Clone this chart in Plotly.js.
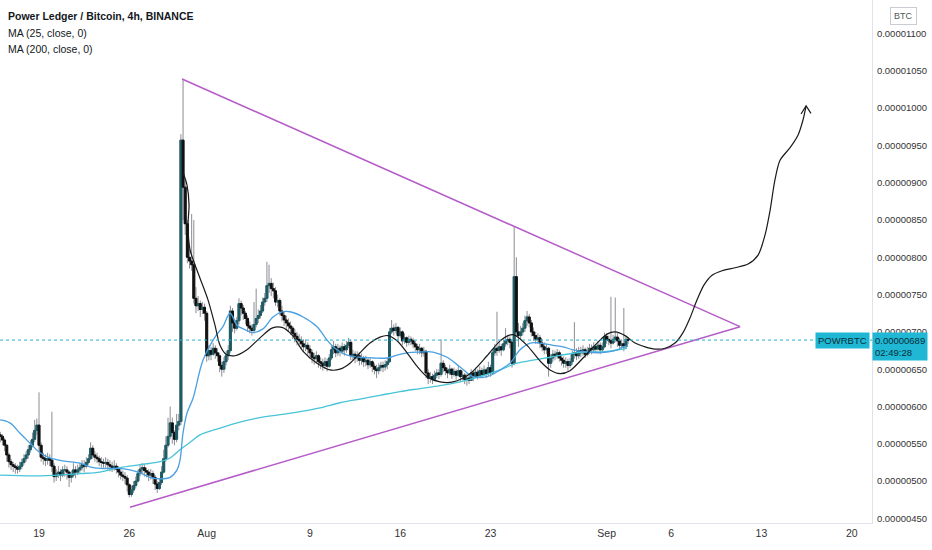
<!DOCTYPE html>
<html><head><meta charset="utf-8">
<script src="https://cdn.plot.ly/plotly-3.0.1.min.js"></script>
<style>html,body{margin:0;padding:0;background:#fff}#chart{width:932px;height:550px}</style>
</head><body><div id="chart"></div>
<script>
// ---- data (prices in units of 1e-8 BTC) ----
const startTime = Date.UTC(2021, 6, 16, 0, 0, 0); // first 4h bar
const firstOpen = 562;
const closes = [
560,555,548,535,526,522, 520,518,516,520,525,530, 535,542,548,556,568,575,
548,532,530,528,530,528, 520,506,510,512,508,515, 515,512,505,508,515,512,
515,518,522,520,525,530, 544,535,532,530,526,525, 524,525,522,520,518,520,
516,512,508,506,504,495, 482,488,494,500,510,516, 518,514,512,508,510,505,
496,490,498,512,530,548, 560,578,565,556,575,580, 957,894,845,800,795,790,
745,735,738,730,733,725, 668,675,670,678,672,668, 655,650,660,668,675,728,
712,705,715,738,732,725, 718,708,705,702,710,718, 722,728,740,745,762,765,
758,755,740,742,728,722, 716,712,708,705,698,694, 690,688,684,680,682,677,
672,666,664,668,660,658, 655,660,654,665,676,680, 672,678,674,680,676,682,
686,668,670,665,668,662, 665,660,662,656,660,654, 650,648,652,655,653,656,
660,700,705,702,706,695, 700,688,692,686,690,688, 684,680,676,678,672,674,
645,638,640,636,642,645, 643,658,652,648,645,650, 643,647,642,648,640,642,
636,638,635,645,640,646, 641,648,643,649,644,652, 645,672,678,675,680,676,
684,688,690,686,658,774, 700,695,700,705,715,720, 712,700,695,690,692,685,
680,676,678,658,665,670, 668,672,665,662,658,660, 655,660,670,672,668,675,
672,676,670,674,678,676, 680,677,682,676,680,694, 690,688,685,690,693,688,
682,684,680,690,689];
const highs = [
566,563,558,550,538,530, 526,524,522,526,530,536, 540,548,555,565,582,584,
619,552,538,536,538,536, 593,524,516,520,516,520, 522,520,514,514,524,520,
522,524,528,528,532,536, 552,548,540,538,534,532, 530,532,530,528,526,528,
524,520,516,514,512,508, 497,494,500,506,515,522, 524,522,518,516,516,514,
508,500,504,520,542,560, 585,600,585,568,590,590, 965,1039,902,850,812,858,
850,760,748,742,740,738, 728,682,680,685,682,678, 672,660,666,674,682,735,
732,718,720,745,742,736, 728,722,714,710,740,758, 730,736,746,752,794,790,
772,766,760,750,745,735, 728,722,718,714,708,704, 700,697,694,690,690,686,
682,676,672,674,670,666, 664,666,664,670,682,688, 684,684,682,686,684,688,
692,690,676,674,674,672, 671,668,668,664,666,662, 658,656,658,660,660,662,
665,705,716,710,712,708, 706,702,698,694,695,694, 692,688,684,684,680,680,
676,650,646,644,648,650, 650,690,662,656,652,656, 652,652,650,654,650,648,
645,644,642,650,648,652, 650,654,652,655,652,660, 656,676,684,727,686,684,
690,705,696,694,690,841, 800,712,708,712,722,728, 724,716,706,700,698,696,
690,686,684,680,670,676, 675,677,675,670,667,666, 664,665,675,713,678,680,
680,682,679,680,684,683, 686,684,688,686,686,699, 698,695,747,696,746,698,
692,690,732,694,693];
const lows = [
552,548,540,526,518,515, 512,510,510,512,516,522, 526,530,538,545,552,562,
540,526,522,520,522,520, 512,498,500,504,500,505, 506,502,492,498,505,504,
508,510,514,512,517,522, 528,530,526,524,520,518, 518,518,515,513,512,514,
510,505,502,500,496,486, 478,479,484,490,498,506, 510,506,505,500,502,496,
488,484,488,495,510,526, 545,556,550,548,552,568, 575,850,830,792,785,782,
738,725,728,720,724,715, 660,662,662,668,664,660, 646,640,645,655,662,672,
700,698,702,710,722,716, 710,700,698,695,700,706, 712,718,725,735,740,752,
748,745,735,733,722,714, 708,704,700,696,690,686, 682,680,676,673,674,668,
664,658,656,658,652,650, 648,650,647,652,662,670, 666,668,667,670,668,672,
678,662,662,658,660,655, 656,653,654,650,652,646, 643,638,643,647,646,648,
650,658,697,695,698,688, 692,682,684,680,682,682, 678,674,670,670,666,667,
638,630,632,630,634,638, 637,640,646,642,638,642, 637,640,636,640,634,635,
630,628,630,634,634,638, 636,639,638,641,638,641, 640,643,668,668,672,668,
674,680,682,678,652,655, 694,680,690,695,700,708, 706,694,688,684,684,678,
674,670,670,640,652,660, 662,664,660,655,652,652, 648,652,656,664,662,664,
666,668,665,667,670,670, 673,672,675,670,672,678, 684,682,678,683,686,680,
676,677,674,679,684];

// moving averages (day offsets from Jul 19, price)
const ma25Day = [-3.02,-2.25,-1.47,-0.70,0.08,0.85,1.86,3.18,3.95,4.73,6.05,7.05,7.83,8.60,9.38,10.16,10.70,10.93,11.16,11.47,11.94,12.71,13.64,14.26,14.81,15.35,15.97,16.59,17.36,18.14,18.91,19.46,20.47,21.55,22.33,23.10,23.88,24.88,25.89,26.98,27.75,28.53,29.53,30.54,31.63,32.64,33.64,34.73,35.74,36.51,37.29,38.06,38.84,39.84,40.62,41.40,42.48,43.26,44.03,44.81,45.27,45.66];
const ma25Val = [582,578,564,551,538,531,527,524,519,517,517,515,511,505,503,505,515,528,564,591,611,662,693,707,725,709,703,699,704,720,727,727,720,707,689,676,669,666,665,665,669,672,673,673,666,653,640,640,649,658,676,685,685,682,680,676,673,672,673,676,680,681];
const ma200Day = [-3.02,0.08,3.18,4.73,6.28,7.83,9.38,10.16,10.93,11.71,12.48,14.03,15.58,17.13,18.68,20.23,21.78,23.33,24.88,26.43,27.98,29.53,31.09,32.64,34.19,35.74,37.05,38.29,39.61,41.71,44.03,45.58];
const ma200Val = [508,507,510,512,518,522,526,531,542,552,562,571,579,585,589,593,598,605,610,615,620,624,628,633,640,649,658,662,666,672,674,678];

// drawings
const triDay = [11.09, 54.34, 7.05];
const triVal = [1039, 707, 465];
const curveDay = [11.16,11.47,11.63,11.55,11.71,12.09,12.48,13.10,13.64,14.03,14.50,15.19,16.12,17.13,18.06,18.84,19.61,20.47,21.55,22.56,23.33,24.11,24.88,25.66,26.43,27.05,27.75,28.53,29.30,30.08,31.09,32.09,33.41,34.73,35.74,36.36,36.82,37.83,38.84,39.61,40.39,41.16,42.17,43.26,44.03,44.65,45.43,46.20,46.98,47.75,48.53,49.30,49.92,50.47,51.01,51.55,52.17,52.95,53.95,54.96,55.74,56.28,56.67,57.05,57.44,58.22,58.84,59.22,59.46];
const curveVal = [914,897,870,843,810,790,772,743,709,682,670,668,676,692,705,706,696,674,658,649,650,658,672,685,693,695,688,672,654,640,633,633,644,668,688,695,696,682,661,649,644,648,665,685,697,700,695,685,680,677,678,685,699,719,743,763,776,782,786,791,803,830,863,904,930,947,964,984,1003];
const arrowDay = [59.07, 59.46, 59.84];
const arrowVal = [992, 1003, 993];

const lastPrice = 689;
const tickDates = ['2021-07-19','2021-07-26','2021-08-01','2021-08-09','2021-08-16','2021-08-23','2021-09-01','2021-09-06','2021-09-13','2021-09-20'];
const tickText = ['19','26','Aug','9','16','23','Sep','6','13','20'];
const priceTicks = [450,500,550,600,650,700,750,800,850,900,950,1000,1050,1100];

// ---- build ----
const SAT = 1e-8;
const base = Date.UTC(2021, 6, 19);
const fmt = ms => new Date(ms).toISOString().slice(0,19).replace('T',' ');
const dayX = d => fmt(base + d*86400000);
const times = closes.map((_, i) => fmt(startTime + i*4*3600000));
const opens = closes.map((c, i) => i === 0 ? firstOpen : closes[i-1]);
const s = a => a.map(v => v*SAT);

const wick = {
  type:'candlestick', x: times, open: s(opens), high: s(highs), low: s(lows), close: s(closes),
  increasing:{line:{color:'#8a8d93', width:1}, fillcolor:'#8a8d93'},
  decreasing:{line:{color:'#8a8d93', width:1}, fillcolor:'#8a8d93'},
  whiskerwidth:0, hoverinfo:'skip', showlegend:false
};
const body = {
  type:'candlestick', x: times, open: s(opens), close: s(closes),
  high: s(opens.map((o,i)=>Math.max(o,closes[i]))), low: s(opens.map((o,i)=>Math.min(o,closes[i]))),
  increasing:{line:{color:'#1d5c66', width:1}, fillcolor:'#1d5c66'},
  decreasing:{line:{color:'#111111', width:1}, fillcolor:'#111111'},
  whiskerwidth:0, hoverinfo:'skip', showlegend:false
};
const ma200 = {type:'scatter', mode:'lines', x: ma200Day.map(dayX), y: s(ma200Val),
  line:{color:'#48c4d8', width:1.3, shape:'spline'}, hoverinfo:'skip', showlegend:false};
const ma25 = {type:'scatter', mode:'lines', x: ma25Day.map(dayX), y: s(ma25Val),
  line:{color:'#4aa0e0', width:1.3, shape:'spline'}, hoverinfo:'skip', showlegend:false};
const tri = {type:'scatter', mode:'lines', x: triDay.map(dayX), y: s(triVal),
  line:{color:'#b65cc9', width:1.5}, hoverinfo:'skip', showlegend:false};
const curve = {type:'scatter', mode:'lines', x: curveDay.map(dayX), y: s(curveVal),
  line:{color:'#1a1a1a', width:1.2, shape:'spline', smoothing:0.8}, hoverinfo:'skip', showlegend:false};
const arrow = {type:'scatter', mode:'lines', x: arrowDay.map(dayX), y: s(arrowVal),
  line:{color:'#1a1a1a', width:1.2}, hoverinfo:'skip', showlegend:false};

const FONT = '"Liberation Sans", Arial, sans-serif';
const PW = 872, PH = 523;
const px = x => x/PW, py = y => 1 - y/PH;

const layout = {
  width:932, height:550, margin:{l:0, r:60, t:0, b:27},
  paper_bgcolor:'#ffffff', plot_bgcolor:'#ffffff',
  showlegend:false, boxgap:0.1, boxgroupgap:0,
  font:{family:FONT, size:10, color:'#333'},
  xaxis:{type:'date', range:['2021-07-15 23:27','2021-09-21 13:40'],
    rangeslider:{visible:false}, showgrid:false, zeroline:false,
    showline:true, linecolor:'#e0e3eb', linewidth:1, mirror:false,
    tickvals: tickDates, ticktext: tickText, ticks:'', tickfont:{family:FONT, size:10.5, color:'#333'}},
  yaxis:{side:'right', range:[443.8*SAT, 1144.9*SAT], showgrid:false, zeroline:false,
    showline:true, linecolor:'#e0e3eb', linewidth:1,
    tickvals: s(priceTicks), tickformat:'.8f', ticks:'', ticklabelstandoff:2,
    tickfont:{family:FONT, size:9.5, color:'#333'}},
  shapes:[{type:'line', xref:'paper', x0:0, x1:1, y0:lastPrice*SAT, y1:lastPrice*SAT,
    line:{color:'#23b2cf', width:1, dash:'dot'}}],
  annotations:[
    {xref:'paper', yref:'paper', x:px(6), y:py(16), xanchor:'left', yanchor:'middle', showarrow:false,
     text:'<b>Power Ledger / Bitcoin, 4h, BINANCE</b>', font:{family:FONT, size:10.5, color:'#131722'}},
    {xref:'paper', yref:'paper', x:px(6), y:py(33), xanchor:'left', yanchor:'middle', showarrow:false,
     text:'MA (25, close, 0)', font:{family:FONT, size:10.5, color:'#131722'}},
    {xref:'paper', yref:'paper', x:px(6), y:py(49), xanchor:'left', yanchor:'middle', showarrow:false,
     text:'MA (200, close, 0)', font:{family:FONT, size:10.5, color:'#131722'}},
    {xref:'paper', yref:'paper', x:px(903), y:py(16), xanchor:'center', yanchor:'middle', showarrow:false,
     text:'BTC', font:{family:FONT, size:9, color:'#555'}, bordercolor:'#c9ccd4', borderwidth:1, borderpad:3, bgcolor:'#fff'},
    {xref:'paper', yref:'y', x:px(870), y:lastPrice*SAT, xanchor:'right', yanchor:'middle', showarrow:false,
     text:'POWRBTC', font:{family:FONT, size:9.5, color:'#0d2d36'}, bgcolor:'#1fb7d4', borderpad:2},
    {xref:'paper', yref:'y', x:1, y:lastPrice*SAT, xanchor:'left', yanchor:'middle', yshift:-6, showarrow:false,
     text:'0.00000689<br>02:49:28', align:'left', font:{family:FONT, size:9.5, color:'#0d2d36'}, bgcolor:'#1fb7d4', borderpad:2}
  ]
};

Plotly.newPlot('chart', [ma200, ma25, wick, body, tri, curve, arrow], layout, {displayModeBar:false, staticPlot:true});
</script></body></html>
